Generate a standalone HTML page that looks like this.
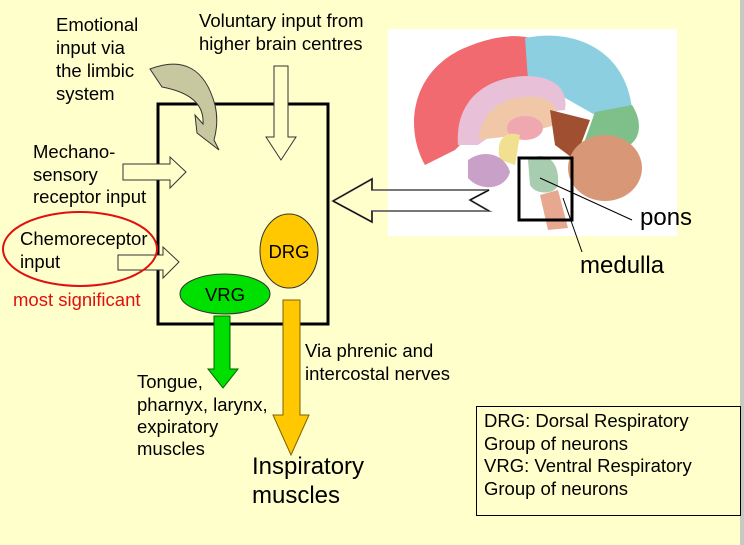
<!DOCTYPE html>
<html><head><meta charset="utf-8"><style>
html,body{margin:0;padding:0;background:#ffffcc;}
svg{display:block;}
text{font-family:"Liberation Sans",sans-serif;fill:#000;}
</style></head><body>
<svg width="744" height="545" viewBox="0 0 744 545" xmlns="http://www.w3.org/2000/svg">
<rect x="0" y="0" width="744" height="545" fill="#ffffcc"/>
<rect x="740" y="0" width="4" height="545" fill="#c8c8c0"/>

<!-- brain image -->
<rect x="388" y="29" width="289" height="207" fill="#fff"/>
<path d="M425,165 C405,130 410,75 460,50 C490,36 515,34 530,38 L528,80 C495,85 470,105 465,140 L455,150 Z" fill="#f06a70"/>
<path d="M525,38 C575,28 625,50 632,108 L595,115 L560,95 L528,80 Z" fill="#8ccfe0"/>
<path d="M595,112 L632,105 C645,125 640,148 615,150 L585,140 Z" fill="#7fc08a"/>
<path d="M458,145 C455,105 480,78 525,76 C558,76 568,92 565,110 L520,115 L478,145 Z" fill="#e8c0d8"/>
<path d="M478,140 C483,108 505,95 535,97 C555,99 560,110 555,125 L520,135 Z" fill="#f0c8a8"/>
<ellipse cx="525" cy="128" rx="18" ry="12" fill="#f0a8b0"/>
<path d="M500,160 C495,140 505,130 520,135 L515,165 Z" fill="#f0e090"/>
<path d="M468,160 C485,148 505,155 510,172 C505,190 480,192 468,178 Z" fill="#c8a0c8"/>
<path d="M550,110 L590,120 L575,160 L555,145 Z" fill="#a05030"/>
<ellipse cx="605" cy="168" rx="37" ry="33" fill="#d89878"/>
<path d="M528,160 C545,150 560,160 558,185 C555,195 535,195 530,185 Z" fill="#a8ccb0"/>
<path d="M540,195 L558,190 L568,228 L548,230 Z" fill="#e8a890"/>
<rect x="519" y="158" width="53" height="62" fill="none" stroke="#000" stroke-width="3"/>
<line x1="540" y1="178" x2="632" y2="220" stroke="#000" stroke-width="1"/>
<line x1="563" y1="198" x2="582" y2="252" stroke="#000" stroke-width="1"/>
<text x="640" y="225" font-size="24">pons</text>
<text x="580" y="273" font-size="24">medulla</text>

<!-- big arrow from brain -->
<path d="M333,201 L372,179 L372,190 L489,190 L470,200 L489,211 L372,211 L372,222 Z" fill="none" stroke="#777" stroke-width="2"/>
<path d="M333,201 L372,179 L372,190 M372,211 L372,222 L333,201 M470,200 L489,190 M470,200 L489,211" fill="none" stroke="#000" stroke-width="1"/>

<!-- main box -->
<rect x="158" y="104" width="170" height="220" fill="none" stroke="#000" stroke-width="3"/>

<!-- arrows in -->
<path d="M274,66 L288,66 L288,137 L296,137 L281,160 L266,137 L274,137 Z" fill="#ffffcc" stroke="#333" stroke-width="1"/>
<path d="M123,164 L170,164 L170,157 L186,172 L170,188 L170,180 L123,180 Z" fill="#ffffcc" stroke="#333" stroke-width="1"/>
<path d="M118,255 L163,255 L163,247 L179,262 L163,278 L163,270 L118,270 Z" fill="#ffffcc" stroke="#333" stroke-width="1"/>
<path d="M150,69 Q200,50 215,105 Q219,122 214,140 L219,150 L197,133 L195,115 L203,124 Q205,95 162,87 Z" fill="#c8c8a0" stroke="#333" stroke-width="1"/>

<!-- ellipses -->
<ellipse cx="289" cy="251" rx="29" ry="37" fill="#ffc800" stroke="#333" stroke-width="1"/>
<text x="289" y="258" font-size="18.5" text-anchor="middle">DRG</text>
<ellipse cx="225" cy="294" rx="45" ry="20" fill="#00e000" stroke="#333" stroke-width="1"/>
<text x="225" y="301" font-size="18.5" text-anchor="middle">VRG</text>
<ellipse cx="80" cy="249" rx="77" ry="37" fill="none" stroke="#e01010" stroke-width="2"/>

<!-- output arrows -->
<path d="M283,300 L300,300 L300,415 L309,415 L291,455 L273,415 L283,415 Z" fill="#ffc800" stroke="#806000" stroke-width="1"/>
<path d="M214,316 L230,316 L230,369 L238,369 L223,388 L208,369 L214,369 Z" fill="#00e000" stroke="#006000" stroke-width="1"/>

<!-- text -->
<g font-size="18.5">
<text x="56" y="31">Emotional</text>
<text x="56" y="54">input via</text>
<text x="56" y="77">the limbic</text>
<text x="56" y="100">system</text>
<text x="199" y="27">Voluntary input from</text>
<text x="199" y="50">higher brain centres</text>
<text x="33" y="158">Mechano-</text>
<text x="33" y="181">sensory</text>
<text x="33" y="203">receptor input</text>
<text x="20" y="245">Chemoreceptor</text>
<text x="20" y="268">input</text>
<text x="13" y="306" style="fill:#e01010">most significant</text>
<text x="137" y="388">Tongue,</text>
<text x="137" y="411">pharnyx, larynx,</text>
<text x="137" y="433">expiratory</text>
<text x="137" y="455">muscles</text>
<text x="305" y="357">Via phrenic and</text>
<text x="305" y="380">intercostal nerves</text>
</g>
<text x="252" y="474" font-size="24">Inspiratory</text>
<text x="252" y="503" font-size="24">muscles</text>

<!-- legend -->
<rect x="476.5" y="406.5" width="264" height="109" fill="none" stroke="#000" stroke-width="1"/>
<g font-size="18.5">
<text x="484" y="427">DRG: Dorsal Respiratory</text>
<text x="484" y="450">Group of neurons</text>
<text x="484" y="472">VRG: Ventral Respiratory</text>
<text x="484" y="495">Group of neurons</text>
</g>
</svg>
</body></html>
